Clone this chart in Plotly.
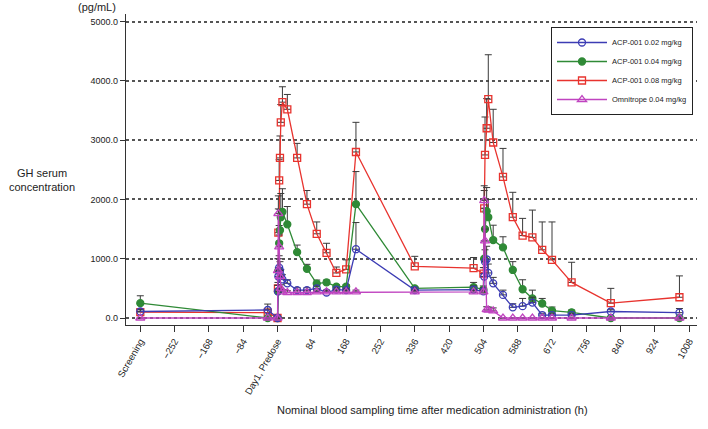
import plotly.graph_objects as go

# Nominal sampling times (h)
times = [-336, -24, 0, 1, 2, 4, 6, 8, 12, 24, 48, 72, 96, 120, 144, 168, 192, 336,
         480, 504, 506, 508, 512, 516, 528, 552, 576, 600, 624, 648, 672, 720, 816, 984]

# ACP-001 0.02 mg/kg
blue_vals = [110, 135, 0, 450, 700, 850, 800, 720, 650, 585, 470, 470, 500, 430, 480, 470, 1160, 470,
             480, 450, 700, 950, 990, 760, 585, 390, 180, 200, 260, 50, 50, 50, 110, 90]
blue_err = [30, 100, 0, 100, 150, 200, 150, 100, 80, 60, 40, 40, 40, 30, 30, 30, 450, 40,
            60, 60, 150, 200, 220, 150, 100, 80, 60, 130, 90, 30, 20, 20, 30, 70]

# ACP-001 0.04 mg/kg
green_vals = [250, 0, 0, 450, 800, 1260, 1480, 1700, 1790, 1580, 1110, 830, 580, 600, 530, 530, 1920, 500,
              520, 480, 1000, 1500, 1800, 1700, 1315, 1190, 810, 485, 330, 245, 125, 95, 0, 0]
green_err = [125, 0, 0, 100, 200, 300, 350, 400, 390, 300, 120, 75, 60, 40, 30, 30, 550, 30,
             80, 60, 300, 350, 400, 300, 250, 180, 140, 160, 140, 85, 60, 40, 0, 0]

# ACP-001 0.08 mg/kg
red_vals = [100, 90, 0, 500, 1440, 2320, 2700, 3300, 3640, 3520, 2700, 1920, 1420, 1100, 760, 820, 2800, 870,
            840, 750, 1850, 2750, 3200, 3690, 2960, 2380, 1700, 1390, 1360, 1150, 980, 600, 250, 350]
red_err = [40, 60, 0, 100, 400, 350, 370, 300, 260, 250, 245, 230, 200, 160, 100, 160, 500, 170,
           180, 100, 300, 640, 500, 750, 560, 480, 420, 290, 460, 470, 640, 340, 250, 360]

# Omnitrope 0.04 mg/kg
mag_vals = [0, 0, 0, 800, 1760, 1200, 700, 500, 440, 430, 430, 430, 440, 440, 440, 440, 440, 440,
            440, 440, 1980, 1300, 140, 135, 120, 0, 0, 0, 0, 0, 0, 0, 0, 0]
mag_err = [0, 0, 0, 200, 300, 200, 100, 60, 40, 30, 30, 30, 30, 30, 30, 30, 30, 30,
           30, 30, 250, 200, 50, 50, 50, 0, 0, 0, 0, 0, 0, 0, 0, 0]

tick_vals = [-336, -252, -168, -84, 0, 84, 168, 252, 336, 420, 504, 588, 672, 756, 840, 924, 1008]
tick_text = ["Screening", "\u2212252", "\u2212168", "\u221284", "Day1, Predose", "84", "168", "252",
             "336", "420", "504", "588", "672", "756", "840", "924", "1008"]
y_ticks = [0, 1000, 2000, 3000, 4000, 5000]

series = [
    ("ACP-001 0.08 mg/kg", red_vals, red_err, "#e8332e", "square-open", 7, 3),
    ("ACP-001 0.04 mg/kg", green_vals, green_err, "#2f8a36", "circle", 7, 2),
    ("ACP-001 0.02 mg/kg", blue_vals, blue_err, "#3c3cb4", "circle-open", 7, 1),
    ("Omnitrope 0.04 mg/kg", mag_vals, mag_err, "#c044c0", "triangle-up-open", 8, 4),
]

fig = go.Figure()
for name, vals, err, col, sym, sz, rank in series:
    fig.add_trace(go.Scatter(
        x=times, y=vals, name=name, mode="lines+markers", legendrank=rank,
        line=dict(color=col, width=1.3),
        marker=dict(symbol=sym, size=sz, color=col, line=dict(color=col, width=1.3)),
        error_y=dict(type="data", array=err, arrayminus=[0] * len(err), symmetric=False,
                     color="#3a3a3a", thickness=1, width=3.5),
    ))

PL, PR, PT, PB = 126, 697, 14, 325
PW, PH = PR - PL, PB - PT


def px_x(px):
    return (px - PL) / PW


def px_y(py):
    return (PB - py) / PH


font_family = "Liberation Sans, Arial, sans-serif"
fig.update_layout(
    width=708, height=429,
    margin=dict(l=PL, r=708 - PR, t=PT, b=429 - PB, autoexpand=False),
    paper_bgcolor="white", plot_bgcolor="white",
    font=dict(family=font_family, color="#222", size=9),
    showlegend=True,
    legend=dict(x=px_x(551), y=px_y(27), xanchor="left", yanchor="top",
                bordercolor="#222", borderwidth=1, bgcolor="white",
                font=dict(size=7.5, family=font_family), itemwidth=50, tracegroupgap=0),
    xaxis=dict(range=[-371, 1027], tickmode="array", tickvals=tick_vals, ticktext=tick_text,
               tickangle=-60, ticks="outside", ticklen=6, tickcolor="#333", automargin=False,
               showline=True, linecolor="#333", linewidth=1.2, showgrid=False, zeroline=False,
               tickfont=dict(size=9.5)),
    yaxis=dict(range=[-118, 5127], tickmode="array", tickvals=y_ticks, tickformat=".1f",
               ticks="outside", ticklen=5, tickcolor="#333", automargin=False,
               showline=True, linecolor="#333", linewidth=1.2,
               showgrid=True, gridcolor="#555", griddash="dot", gridwidth=1.5, zeroline=False,
               tickfont=dict(size=9)),
    annotations=[
        dict(text="(pg/mL)", xref="paper", yref="paper", x=px_x(97), y=px_y(7),
             xanchor="center", yanchor="middle", showarrow=False, font=dict(size=11)),
        dict(text="GH serum<br>concentration", xref="paper", yref="paper",
             x=px_x(42), y=px_y(180), xanchor="center", yanchor="middle",
             showarrow=False, font=dict(size=11)),
        dict(text="Nominal blood sampling time after medication administration (h)",
             xref="paper", yref="paper", x=px_x(432), y=px_y(410),
             xanchor="center", yanchor="middle", showarrow=False, font=dict(size=11)),
    ],
)

fig.write_html("out.html", config={"displayModeBar": False},
               post_script="document.body.style.margin='0';")
